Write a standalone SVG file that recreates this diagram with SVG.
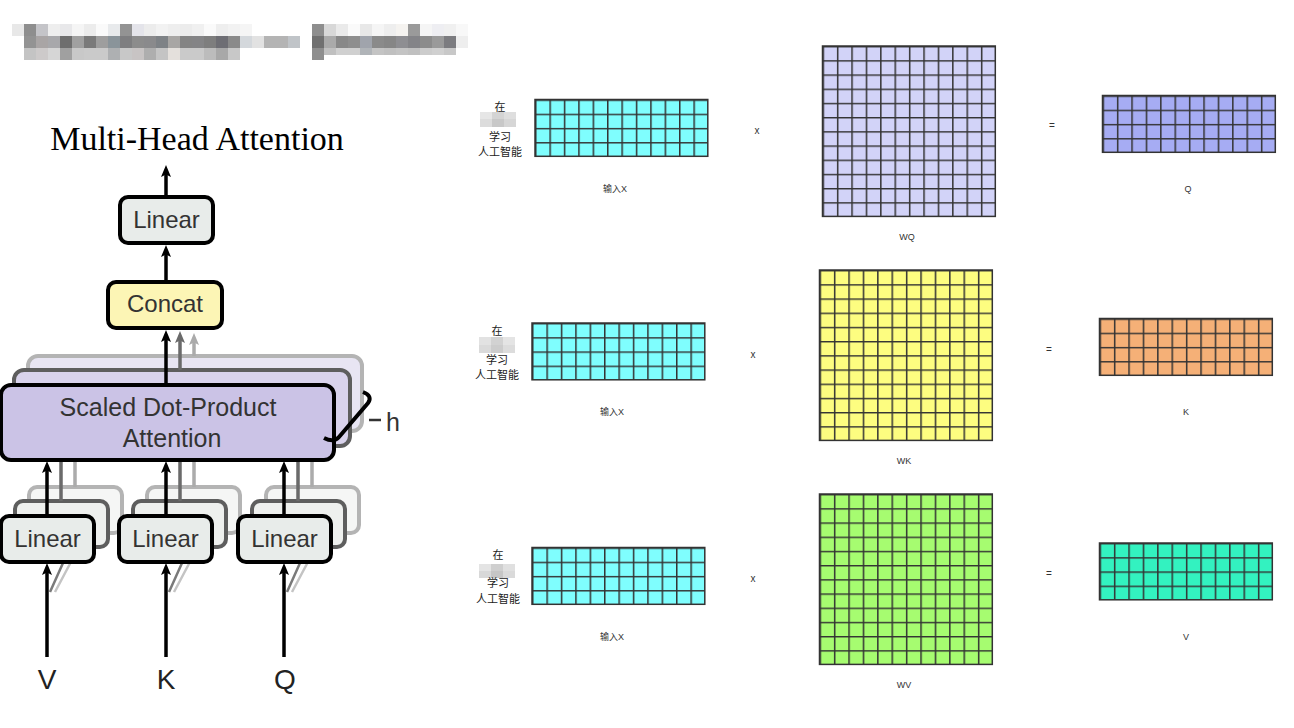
<svg xmlns="http://www.w3.org/2000/svg" width="1294" height="728" viewBox="0 0 1294 728">
<style>
.box{stroke:#000;stroke-width:4}
.b2{stroke:#5e5e5e;stroke-width:4}
.b3{stroke:#b4b4b4;stroke-width:4}
.lin{fill:#e8ecea}
.lin2{fill:#eef0ee}
.lin3{fill:#f5f6f5}
.att{fill:#cbc3e6}
.att2{fill:#d9d3ec}
.att3{fill:#e8e5f3}
.lbl{font-family:"Liberation Sans",Arial,sans-serif;font-size:24px;fill:#333;text-anchor:middle}
.io{font-family:"Liberation Sans",Arial,sans-serif;font-size:28px;fill:#222;text-anchor:middle}
.ttl{font-family:"Liberation Serif","Times New Roman",serif;font-size:34px;fill:#000;text-anchor:middle}
.ar{stroke:#000;stroke-width:3.5;fill:none}
.ag{stroke:#6a6a6a;stroke-width:3.5;fill:none}
.al{stroke:#ababab;stroke-width:3.5;fill:none}
.sm{font-family:"Liberation Sans",Arial,sans-serif;font-size:9px;fill:#333;text-anchor:middle}
.cjk{font-family:"Liberation Sans","Noto Sans CJK SC",sans-serif;font-size:11px;fill:#222;text-anchor:middle}
.cjks{font-family:"Liberation Sans","Noto Sans CJK SC",sans-serif;font-size:9px;fill:#333;text-anchor:middle}
.gl{stroke:#333;stroke-width:1.5}
.cy{fill:#7ffefe}.wq{fill:#d2d3f8}.q{fill:#a6acf3}.wk{fill:#fdfd80}.k{fill:#f5b077}.wv{fill:#a6fc70}.v{fill:#33f2c0}
</style>
<defs>
<pattern id="cells" width="14.4" height="14.2" patternUnits="userSpaceOnUse"><path d="M0 0.75H14.4M0.75 0V14.2" stroke="#333" stroke-width="1.5" fill="none"/></pattern>
<marker id="ah" viewBox="0 0 12 10" markerWidth="12" markerHeight="10" refX="5" refY="5" orient="auto" markerUnits="userSpaceOnUse"><path d="M0 0L12 5L0 10L2.5 5z" fill="#000"/></marker>
<marker id="ahg" viewBox="0 0 12 10" markerWidth="12" markerHeight="10" refX="5" refY="5" orient="auto" markerUnits="userSpaceOnUse"><path d="M0 0L12 5L0 10L2.5 5z" fill="#6a6a6a"/></marker>
<marker id="ahl" viewBox="0 0 12 10" markerWidth="12" markerHeight="10" refX="5" refY="5" orient="auto" markerUnits="userSpaceOnUse"><path d="M0 0L12 5L0 10L2.5 5z" fill="#ababab"/></marker>
</defs>
<rect width="1294" height="728" fill="#fff"/>

<!-- blurred title mosaic -->
<g id="blur-title">
<rect x="12" y="24" width="12" height="12" fill="#e8e8e8"/><rect x="24" y="24" width="12" height="12" fill="#8e8e8e"/><rect x="36" y="24" width="12" height="12" fill="#c4c4c8"/><rect x="48" y="24" width="12" height="12" fill="#eeeeee"/><rect x="60" y="24" width="12" height="12" fill="#e8e8ea"/><rect x="72" y="24" width="12" height="12" fill="#f5f5f5"/><rect x="84" y="24" width="12" height="12" fill="#ececec"/><rect x="96" y="24" width="12" height="12" fill="#fafafa"/><rect x="108" y="24" width="12" height="12" fill="#e8eaec"/><rect x="120" y="24" width="12" height="12" fill="#939393"/><rect x="132" y="24" width="12" height="12" fill="#e4e4ea"/><rect x="144" y="24" width="12" height="12" fill="#ececec"/><rect x="156" y="24" width="12" height="12" fill="#f2f2f2"/><rect x="168" y="24" width="12" height="12" fill="#eeeeee"/><rect x="180" y="24" width="12" height="12" fill="#ececec"/><rect x="192" y="24" width="12" height="12" fill="#f0f0f0"/><rect x="204" y="24" width="12" height="12" fill="#fafafa"/><rect x="216" y="24" width="12" height="12" fill="#eeeeee"/><rect x="228" y="24" width="12" height="12" fill="#f2f2f2"/><rect x="240" y="24" width="12" height="12" fill="#f5f5f5"/>
<rect x="24" y="36" width="12" height="12" fill="#939393"/><rect x="36" y="36" width="12" height="12" fill="#a9a5a5"/><rect x="48" y="36" width="12" height="12" fill="#a8a8ab"/><rect x="60" y="36" width="12" height="12" fill="#6e6e6e"/><rect x="72" y="36" width="12" height="12" fill="#a0a0a0"/><rect x="84" y="36" width="12" height="12" fill="#7a7a7a"/><rect x="96" y="36" width="12" height="12" fill="#9e9e9e"/><rect x="108" y="36" width="12" height="12" fill="#8a949a"/><rect x="120" y="36" width="12" height="12" fill="#7e7e80"/><rect x="132" y="36" width="12" height="12" fill="#8c8c8c"/><rect x="144" y="36" width="12" height="12" fill="#8a8a8c"/><rect x="156" y="36" width="12" height="12" fill="#7e8286"/><rect x="168" y="36" width="12" height="12" fill="#a8a6a4"/><rect x="180" y="36" width="12" height="12" fill="#848484"/><rect x="192" y="36" width="12" height="12" fill="#848486"/><rect x="204" y="36" width="12" height="12" fill="#7e7e7e"/><rect x="216" y="36" width="12" height="12" fill="#6e6e74"/><rect x="228" y="36" width="12" height="12" fill="#8a8a8a"/><rect x="240" y="36" width="12" height="12" fill="#d4d8dc"/><rect x="252" y="36" width="12" height="12" fill="#e2e2e2"/><rect x="264" y="36" width="24" height="12" fill="#b4b4b4"/><rect x="288" y="36" width="12" height="12" fill="#c0c4c8"/>
<rect x="24" y="48" width="12" height="12" fill="#c4c4c4"/><rect x="36" y="48" width="12" height="12" fill="#cdcaca"/><rect x="48" y="48" width="12" height="12" fill="#d6d6d6"/><rect x="60" y="48" width="12" height="12" fill="#a0a0a0"/><rect x="72" y="48" width="12" height="12" fill="#c8c8c8"/><rect x="84" y="48" width="24" height="12" fill="#cacaca"/><rect x="108" y="48" width="12" height="12" fill="#aeb0b2"/><rect x="120" y="48" width="12" height="12" fill="#c8c8c8"/><rect x="132" y="48" width="12" height="12" fill="#c8c4c4"/><rect x="144" y="48" width="12" height="12" fill="#aeaeae"/><rect x="156" y="48" width="12" height="12" fill="#c4c4c4"/><rect x="168" y="48" width="12" height="12" fill="#e4e0dc"/><rect x="180" y="48" width="24" height="12" fill="#cacaca"/><rect x="204" y="48" width="12" height="12" fill="#bcbcbc"/><rect x="216" y="48" width="12" height="12" fill="#a8a8a8"/><rect x="228" y="48" width="12" height="12" fill="#c8c8c8"/>
<rect x="312" y="24" width="12" height="12" fill="#8e8e8e"/><rect x="324" y="24" width="12" height="12" fill="#d8d8d8"/><rect x="336" y="24" width="12" height="12" fill="#eaeaea"/><rect x="348" y="24" width="12" height="12" fill="#fafafa"/><rect x="360" y="24" width="12" height="12" fill="#e8e8e8"/><rect x="372" y="24" width="12" height="12" fill="#f5f5f5"/><rect x="384" y="24" width="12" height="12" fill="#eeeeee"/><rect x="396" y="24" width="12" height="12" fill="#f5f3f0"/><rect x="408" y="24" width="12" height="12" fill="#9a9a9a"/><rect x="420" y="24" width="12" height="12" fill="#f5f5f5"/><rect x="432" y="24" width="12" height="12" fill="#eeeef2"/><rect x="444" y="24" width="12" height="12" fill="#f0f0f0"/><rect x="456" y="24" width="12" height="12" fill="#f8f8f8"/>
<rect x="312" y="36" width="12" height="12" fill="#707070"/><rect x="324" y="36" width="12" height="12" fill="#aaaaaa"/><rect x="336" y="36" width="12" height="12" fill="#888888"/><rect x="348" y="36" width="12" height="12" fill="#8e8e8e"/><rect x="360" y="36" width="12" height="12" fill="#a0a4ac"/><rect x="372" y="36" width="12" height="12" fill="#8a8a8a"/><rect x="384" y="36" width="12" height="12" fill="#868686"/><rect x="396" y="36" width="12" height="12" fill="#8e8e92"/><rect x="408" y="36" width="12" height="12" fill="#848488"/><rect x="420" y="36" width="12" height="12" fill="#8c8c8c"/><rect x="432" y="36" width="12" height="12" fill="#9a9a9a"/><rect x="444" y="36" width="12" height="12" fill="#7c7c80"/><rect x="456" y="36" width="12" height="12" fill="#eeeeee"/>
<rect x="312" y="48" width="12" height="12" fill="#8e8e8e"/><rect x="324" y="48" width="12" height="7" fill="#c0c0c0"/><rect x="336" y="48" width="24" height="7" fill="#d0d0d0"/><rect x="360" y="48" width="12" height="7" fill="#b0b4b8"/><rect x="372" y="48" width="12" height="7" fill="#c4c4c4"/><rect x="384" y="48" width="12" height="7" fill="#c0c0c0"/><rect x="396" y="48" width="12" height="7" fill="#c4c4c4"/><rect x="408" y="48" width="12" height="7" fill="#c0c0c0"/><rect x="420" y="48" width="12" height="7" fill="#cccccc"/><rect x="432" y="48" width="12" height="7" fill="#d0d0d0"/><rect x="444" y="48" width="12" height="7" fill="#c8c8c8"/>
</g>

<!-- Multi-head attention figure -->
<text class="ttl" x="197" y="150">Multi-Head Attention</text>

<!-- back layer 3 -->
<g id="layer3">
<rect class="b3 att3" x="28" y="356" width="334" height="75" rx="10"/>
<rect class="b3 lin3" x="29" y="487" width="93" height="46" rx="8"/>
<rect class="b3 lin3" x="147" y="487" width="93" height="46" rx="8"/>
<rect class="b3 lin3" x="266" y="487" width="93" height="46" rx="8"/>
<path class="al" d="M75 487V432M194 487V432M312 487V432"/>
<path class="al" d="M194 356V340" marker-end="url(#ahl)"/>
<path d="M55 592L72 560M174 592L191 560M292 592L309 560" stroke="#c4c4c4" stroke-width="2.5"/>
</g>
<!-- back layer 2 -->
<g id="layer2">
<rect class="b2 att2" x="14" y="370" width="336" height="76" rx="10"/>
<rect class="b2 lin2" x="15" y="501" width="93" height="46" rx="8"/>
<rect class="b2 lin2" x="133" y="501" width="93" height="46" rx="8"/>
<rect class="b2 lin2" x="252" y="501" width="93" height="46" rx="8"/>
<path class="ag" d="M61 501V446M180 501V446M298 501V446"/>
<path class="ag" d="M180 370V338" marker-end="url(#ahg)"/>
<path d="M50 592L63 563M169 592L182 563M287 592L300 563" stroke="#7a7a7a" stroke-width="2.5"/>
</g>

<g id="connectors">
<path class="ar" d="M166 196V172" marker-end="url(#ah)"/>
<path class="ar" d="M166 281V252" marker-end="url(#ah)"/>
<path class="ar" d="M166 384V337" marker-end="url(#ah)"/>
<path class="ar" d="M47 515V468" marker-end="url(#ah)"/>
<path class="ar" d="M166 515V468" marker-end="url(#ah)"/>
<path class="ar" d="M284 515V468" marker-end="url(#ah)"/>
<path class="ar" d="M47 657V570" marker-end="url(#ah)"/>
<path class="ar" d="M166 657V570" marker-end="url(#ah)"/>
<path class="ar" d="M284 657V570" marker-end="url(#ah)"/>
</g>

<g id="linear-top">
<rect class="box lin" x="120" y="197" width="93" height="46" rx="8"/>
<text class="lbl" x="166.5" y="228">Linear</text>
</g>
<g id="concat">
<rect class="box" fill="#fcf5b5" x="108" y="282" width="114" height="46" rx="8"/>
<text class="lbl" x="165" y="312">Concat</text>
</g>
<g id="attention">
<rect class="box att" x="1" y="385" width="333" height="75" rx="10"/>
<text class="lbl" x="168" y="416" style="font-size:25px">Scaled Dot-Product</text>
<text class="lbl" x="172" y="447" style="font-size:25px">Attention</text>
</g>
<g id="brace">
<path d="M363 392Q373 396 368 403L339 437Q334 443 324 438" stroke="#000" stroke-width="4" fill="none"/>
<path d="M369 420H381" stroke="#333" stroke-width="2.5"/>
<text class="lbl" x="386" y="431" style="text-anchor:start;font-size:25px">h</text>
</g>
<g id="linear-v">
<rect class="box lin" x="1" y="516" width="93" height="46" rx="8"/>
<text class="lbl" x="47.5" y="547">Linear</text>
</g>
<g id="linear-k">
<rect class="box lin" x="119" y="516" width="93" height="46" rx="8"/>
<text class="lbl" x="165.5" y="547">Linear</text>
</g>
<g id="linear-q">
<rect class="box lin" x="238" y="516" width="93" height="46" rx="8"/>
<text class="lbl" x="284.5" y="547">Linear</text>
</g>
<g id="inputs">
<text class="io" x="47" y="689">V</text>
<text class="io" x="166" y="689">K</text>
<text class="io" x="285" y="689">Q</text>
</g>

<!-- Row 1: Q -->
<g id="row1-label">
<text class="cjk" x="500" y="111">在</text>
<rect x="480" y="112" width="12" height="7" fill="#e6e6e6"/><rect x="492" y="112" width="12" height="7" fill="#d4d4d4"/><rect x="504" y="112" width="12" height="7" fill="#dedede"/>
<rect x="480" y="119" width="12" height="8" fill="#dcdcdc"/><rect x="492" y="119" width="12" height="8" fill="#c8c8c8"/><rect x="504" y="119" width="12" height="8" fill="#d6d6d6"/>
<text class="cjk" x="500" y="141">学习</text>
<text class="cjk" x="500" y="156">人工智能</text>
</g>
<g id="row1-x" transform="translate(535,99.5)"><rect class="cy" width="172.8" height="56.8"/><rect class="gl" width="172.8" height="56.8" fill="url(#cells)"/></g>
<text class="cjks" x="615" y="192">输入X</text>
<text class="sm" x="757" y="134" style="font-size:10px">x</text>
<g id="wq" transform="translate(822.5,46)"><rect class="wq" width="172.8" height="170.4"/><rect class="gl" width="172.8" height="170.4" fill="url(#cells)"/></g>
<text class="sm" x="907" y="240">WQ</text>
<text class="sm" x="1052" y="129" style="font-size:10px">=</text>
<g id="q" transform="translate(1102.5,95.5)"><rect class="q" width="172.8" height="56.8"/><rect class="gl" width="172.8" height="56.8" fill="url(#cells)"/></g>
<text class="sm" x="1188" y="192">Q</text>

<!-- Row 2: K -->
<g id="row2-label">
<text class="cjk" x="497" y="335">在</text>
<rect x="479" y="337" width="12" height="8" fill="#e2e2e2"/><rect x="491" y="337" width="12" height="8" fill="#d2d2d2"/><rect x="503" y="337" width="12" height="8" fill="#e4e4e4"/>
<rect x="479" y="345" width="12" height="8" fill="#dadada"/><rect x="491" y="345" width="12" height="8" fill="#cccccc"/><rect x="503" y="345" width="12" height="8" fill="#dcdcdc"/>
<text class="cjk" x="497" y="364">学习</text>
<text class="cjk" x="497" y="379">人工智能</text>
</g>
<g id="row2-x" transform="translate(532,323)"><rect class="cy" width="172.8" height="56.8"/><rect class="gl" width="172.8" height="56.8" fill="url(#cells)"/></g>
<text class="cjks" x="612" y="415">输入X</text>
<text class="sm" x="753" y="358" style="font-size:10px">x</text>
<g id="wk" transform="translate(819.5,270)"><rect class="wk" width="172.8" height="170.4"/><rect class="gl" width="172.8" height="170.4" fill="url(#cells)"/></g>
<text class="sm" x="904" y="464">WK</text>
<text class="sm" x="1049" y="353" style="font-size:10px">=</text>
<g id="k" transform="translate(1099.5,318.5)"><rect class="k" width="172.8" height="56.8"/><rect class="gl" width="172.8" height="56.8" fill="url(#cells)"/></g>
<text class="sm" x="1186" y="415">K</text>

<!-- Row 3: V -->
<g id="row3-label">
<text class="cjk" x="498" y="559">在</text>
<rect x="479" y="564" width="12" height="7" fill="#e4e4e4"/><rect x="491" y="564" width="12" height="7" fill="#cfcfcf"/><rect x="503" y="564" width="12" height="7" fill="#e0e0e0"/>
<rect x="479" y="571" width="12" height="7" fill="#d8d8d8"/><rect x="491" y="571" width="12" height="7" fill="#c6c6c6"/><rect x="503" y="571" width="12" height="7" fill="#dadada"/>
<text class="cjk" x="498" y="587">学习</text>
<text class="cjk" x="498" y="603">人工智能</text>
</g>
<g id="row3-x" transform="translate(532,547.5)"><rect class="cy" width="172.8" height="56.8"/><rect class="gl" width="172.8" height="56.8" fill="url(#cells)"/></g>
<text class="cjks" x="612" y="640">输入X</text>
<text class="sm" x="753" y="582" style="font-size:10px">x</text>
<g id="wv" transform="translate(819.5,494)"><rect class="wv" width="172.8" height="170.4"/><rect class="gl" width="172.8" height="170.4" fill="url(#cells)"/></g>
<text class="sm" x="904" y="688">WV</text>
<text class="sm" x="1049" y="577" style="font-size:10px">=</text>
<g id="v" transform="translate(1099.5,543)"><rect class="v" width="172.8" height="56.8"/><rect class="gl" width="172.8" height="56.8" fill="url(#cells)"/></g>
<text class="sm" x="1186" y="640">V</text>
</svg>
